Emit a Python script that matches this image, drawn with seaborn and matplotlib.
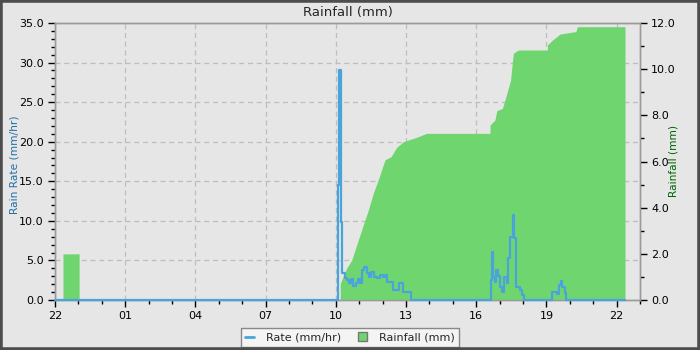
import matplotlib
matplotlib.use("Agg")
import matplotlib.pyplot as plt
import seaborn as sns
import pandas as pd
from matplotlib.lines import Line2D
from matplotlib.patches import Patch, Rectangle
from matplotlib.ticker import MultipleLocator, FormatStrFormatter

# ---- data (hours since 22:00) ----
rate_hours = [0.0, 12.10, 12.15, 12.21, 12.26, 12.39, 12.48, 12.56, 12.65, 12.73, 12.85,
              12.94, 13.03, 13.12, 13.21, 13.32, 13.42, 13.52, 13.63, 13.75, 13.89,
              14.00, 14.10, 14.18, 14.32, 14.46, 14.60, 14.68, 14.78, 14.87, 15.11,
              15.22, 18.62, 18.66, 18.72, 18.79, 18.85, 18.95, 19.02, 19.12, 19.20,
              19.30, 19.36, 19.44, 19.52, 19.56, 19.62, 19.69, 19.80, 19.87, 19.97,
              20.04, 21.22, 21.45, 21.55, 21.61, 21.68, 21.78, 21.85, 24.36]
rate_values = [0.0, 14.5, 29.1, 9.9, 3.45, 2.74, 2.5, 2.2, 2.6, 1.77, 2.2,
               2.6, 2.2, 3.8, 4.2, 3.37, 2.95, 3.6, 2.95, 2.74, 3.16,
               2.95, 3.16, 2.3, 2.3, 1.26, 1.26, 2.1, 2.1, 1.05, 1.05,
               0.0, 2.5, 6.1, 2.95, 2.3, 3.8, 3.0, 1.7, 1.05, 2.95,
               2.1, 5.26, 8.0, 8.0, 10.74, 7.8, 1.68, 1.68, 1.26, 0.63,
               0.0, 1.05, 0.76, 1.9, 2.45, 1.68, 0.84, 0.0, 0.0]

rain_hours = [0.34, 0.34, 1.03, 1.03, 12.19, 12.19, 12.46, 12.68, 12.89, 13.15, 13.39,
              13.60, 13.86, 14.10, 14.36, 14.60, 14.89, 15.46, 15.88, 18.59, 18.59,
              18.80, 18.88, 19.12, 19.23, 19.37, 19.47, 19.54, 19.59, 19.80, 21.04,
              21.04, 21.27, 21.58, 22.26, 22.32, 24.36, 24.36]
rain_values = [0.0, 2.0, 2.0, 0.0, 0.0, 0.72, 1.37, 1.73, 2.38, 3.18, 3.90,
               4.62, 5.34, 6.07, 6.21, 6.61, 6.86, 7.05, 7.22, 7.22, 7.58,
               7.8, 8.2, 8.3, 8.67, 9.17, 9.53, 10.26, 10.69, 10.83, 10.83,
               11.05, 11.27, 11.52, 11.63, 11.84, 11.84, 0.0]

x_tick_pos = [0, 3, 6, 9, 12, 15, 18, 21, 24]
x_tick_labels = ["22", "01", "04", "07", "10", "13", "16", "19", "22"]

rate_df = pd.DataFrame({"hour": rate_hours, "rate": rate_values})

BG = "#e6e6e6"
BLUE = "#4ba3dc"
GREEN = "#6fd66f"

sns.set_style("white")
plt.rcParams["font.family"] = ["DejaVu Sans"]

fig = plt.figure(figsize=(7, 3.5), dpi=100, facecolor=BG)
ax = fig.add_axes([55/700, 50/350, 585/700, 277/350])
ax.set_facecolor(BG)
ax2 = ax.twinx()
ax3 = ax.twinx()

# rainfall fill (right axis)
ax2.fill_between(rain_hours, 0, rain_values, color=GREEN, linewidth=0)
ax2.set_ylim(0, 12)

# rate line (left scale)
sns.lineplot(data=rate_df, x="hour", y="rate", ax=ax3, color=BLUE,
             linewidth=1.6, drawstyle="steps-post", legend=False)
for ln in ax3.lines:
    ln.set_clip_on(False)
ax3.set_ylim(0, 35)
ax3.axis("off")

ax.set_xlim(0, 25)
ax.set_ylim(0, 35)
ax2.set_xlim(0, 25)
ax3.set_xlim(0, 25)

ax.set_xticks(x_tick_pos)
ax.set_xticklabels(x_tick_labels)
ax.xaxis.set_minor_locator(MultipleLocator(1))
ax.yaxis.set_major_locator(MultipleLocator(5))
ax.yaxis.set_minor_locator(MultipleLocator(1))
ax.yaxis.set_major_formatter(FormatStrFormatter("%.1f"))
ax2.yaxis.set_major_locator(MultipleLocator(2))
ax2.yaxis.set_minor_locator(MultipleLocator(1))
ax2.yaxis.set_major_formatter(FormatStrFormatter("%.1f"))

for a in (ax, ax2):
    a.tick_params(which="major", direction="out", length=5, width=1, color="black",
                  labelsize=8, pad=3, labelcolor="black")
    a.tick_params(which="minor", direction="out", length=3, width=1, color="black")
ax.tick_params(axis="x", which="both", bottom=True)
ax.tick_params(axis="y", which="both", left=True)
ax2.tick_params(axis="y", which="both", right=True)

ax.grid(True, which="major", linestyle=(0, (4, 3)), color="#bdbdbd", linewidth=0.9)
ax.set_axisbelow(True)

for a in (ax, ax2):
    for s in a.spines.values():
        s.set_color("#9a9a9a")
        s.set_linewidth(1)

ax.set_ylabel("Rain Rate (mm/hr)", fontsize=7.7, color="#1f6fa8")
ax.yaxis.set_label_coords(-0.0607, 0.49)
ax2.set_ylabel("Rainfall (mm)", fontsize=7.7, color="#006400")
ax2.yaxis.set_label_coords(1.0487, 0.5)
ax.set_xlabel("")
ax.set_title("Rainfall (mm)", fontsize=9.5, pad=5)

handles = [Line2D([0], [0], color=BLUE, linewidth=2),
           Patch(facecolor=GREEN, edgecolor="#777777", linewidth=1)]
leg = fig.legend(handles, ["Rate (mm/hr)", "Rainfall (mm)"], loc="lower center",
                 bbox_to_anchor=(0.5, 3/350), borderaxespad=0, ncol=2, fontsize=8,
                 frameon=True, fancybox=False, handlelength=0.8, handleheight=0.8,
                 columnspacing=1.5, borderpad=0.4, handletextpad=1.1)
leg.get_frame().set_facecolor("#f4f4f4")
leg.get_frame().set_edgecolor("#888888")
leg.get_frame().set_alpha(1)

fig.patches.append(Rectangle((0, 0), 1, 1, transform=fig.transFigure, fill=False,
                             edgecolor="#4d4d4d", linewidth=4, zorder=10))

fig.savefig("out.png", dpi=100, facecolor=BG)
